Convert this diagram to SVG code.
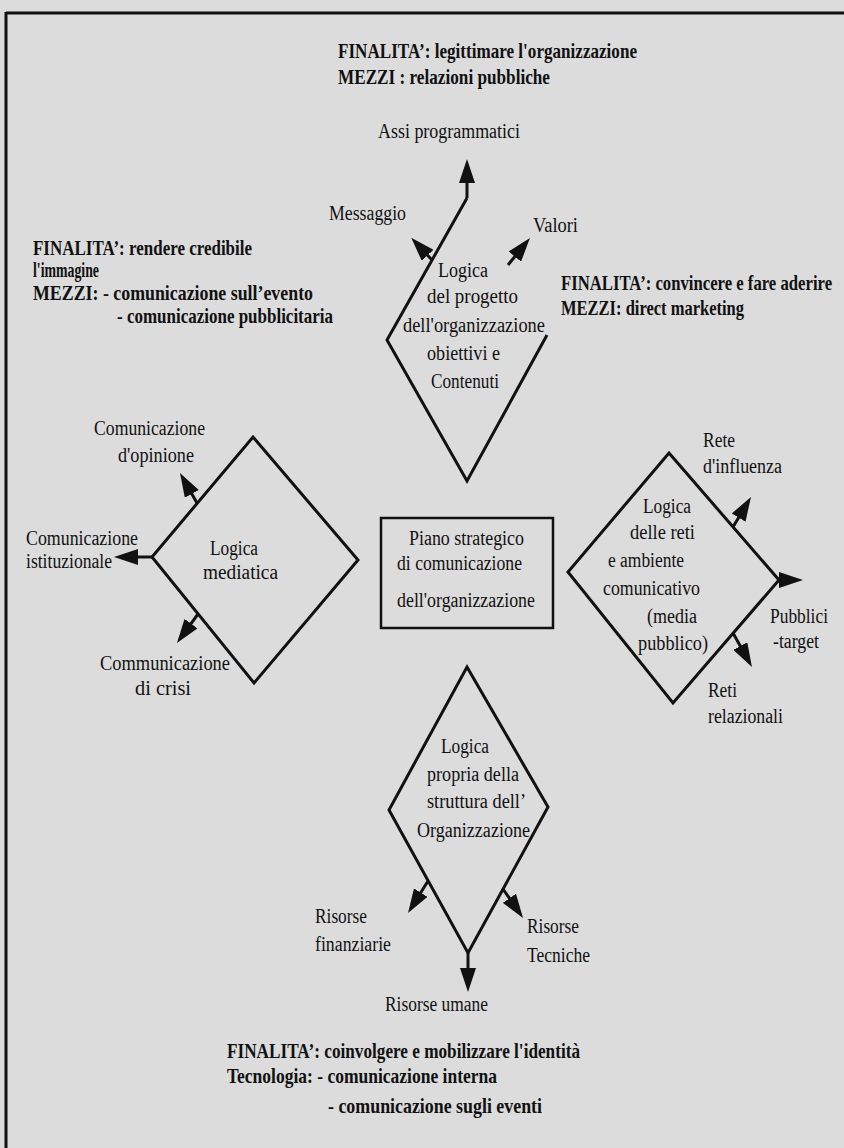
<svg xmlns="http://www.w3.org/2000/svg" width="844" height="1148" viewBox="0 0 844 1148">
<defs>
<style>
.bg{fill:#dcdcdc}
.frame{stroke:#111;stroke-width:3;fill:none}
.shape{stroke:#111;stroke-width:3;fill:none;stroke-linejoin:miter}
.box{stroke:#111;stroke-width:2.5;fill:none}
.arrow{stroke:#111;stroke-width:3;fill:none;marker-end:url(#head)}
text{font-family:"Liberation Serif","Times New Roman",serif;fill:#111;font-size:20px}
.b{font-weight:bold;font-size:21px}
</style>
<marker id="head" viewBox="0 0 24 16" refX="12" refY="8" markerWidth="24" markerHeight="16" markerUnits="userSpaceOnUse" orient="auto">
<path d="M0,0 L24,8 L0,16 Z" fill="#111"/>
</marker>
</defs>
<rect class="bg" x="0" y="0" width="844" height="1148"/>
<g id="frame">
<line class="frame" x1="6" y1="13" x2="844" y2="13"/>
<line class="frame" x1="6" y1="12" x2="6" y2="1148"/>
</g>

<g id="finalita-top">
<text class="b" x="338" y="58" textLength="299" lengthAdjust="spacingAndGlyphs">FINALITA’: legittimare l'organizzazione</text>
<text class="b" x="338" y="84" textLength="212" lengthAdjust="spacingAndGlyphs">MEZZI : relazioni pubbliche</text>
</g>
<g id="finalita-left">
<text class="b" x="33" y="255" textLength="219" lengthAdjust="spacingAndGlyphs">FINALITA’: rendere credibile</text>
<text class="b" x="33" y="277" textLength="66" lengthAdjust="spacingAndGlyphs">l'immagine</text>
<text class="b" x="33" y="300" textLength="280" lengthAdjust="spacingAndGlyphs">MEZZI:  - comunicazione sull’evento</text>
<text class="b" x="117" y="323" textLength="216" lengthAdjust="spacingAndGlyphs">- comunicazione pubblicitaria</text>
</g>
<g id="finalita-right">
<text class="b" transform="translate(561,290) scale(0.795,1)" x="0" y="0">FINALITA’: convincere e fare aderire</text>
<text class="b" x="561" y="315" textLength="183" lengthAdjust="spacingAndGlyphs">MEZZI: direct marketing</text>
</g>
<g id="finalita-bottom">
<text class="b" x="227" y="1058" textLength="353" lengthAdjust="spacingAndGlyphs">FINALITA’: coinvolgere e mobilizzare l'identità</text>
<text class="b" x="227" y="1083" textLength="270" lengthAdjust="spacingAndGlyphs">Tecnologia:  - comunicazione interna</text>
<text class="b" x="328" y="1113" textLength="214" lengthAdjust="spacingAndGlyphs">- comunicazione sugli eventi</text>
</g>

<g id="node-progetto">
<polyline class="shape" points="547,335 467,481 387,340 467,198"/>
<text x="438" y="277" textLength="50" lengthAdjust="spacingAndGlyphs">Logica</text>
<text x="427" y="303" textLength="91" lengthAdjust="spacingAndGlyphs">del progetto</text>
<text x="403" y="332" textLength="142" lengthAdjust="spacingAndGlyphs">dell'organizzazione</text>
<text x="427" y="360" textLength="73" lengthAdjust="spacingAndGlyphs">obiettivi e</text>
<text x="431" y="388" textLength="68" lengthAdjust="spacingAndGlyphs">Contenuti</text>
</g>
<g id="node-mediatica">
<polygon class="shape" points="253,437 358,560 254,683 152,557"/>
<text x="210" y="555" textLength="48" lengthAdjust="spacingAndGlyphs">Logica</text>
<text x="203" y="579" textLength="75" lengthAdjust="spacingAndGlyphs">mediatica</text>
</g>
<g id="node-piano">
<rect class="box" x="381" y="518" width="172" height="110"/>
<text x="409" y="545" textLength="115" lengthAdjust="spacingAndGlyphs">Piano strategico</text>
<text x="397" y="570" textLength="125" lengthAdjust="spacingAndGlyphs">di comunicazione</text>
<text x="397" y="607" textLength="138" lengthAdjust="spacingAndGlyphs">dell'organizzazione</text>
</g>
<g id="node-reti">
<polygon class="shape" points="669,453 779,580 673,703 568,572"/>
<text x="643" y="513" textLength="48" lengthAdjust="spacingAndGlyphs">Logica</text>
<text x="630" y="539" textLength="65" lengthAdjust="spacingAndGlyphs">delle reti</text>
<text x="608" y="567" textLength="76" lengthAdjust="spacingAndGlyphs">e ambiente</text>
<text x="603" y="595" textLength="97" lengthAdjust="spacingAndGlyphs">comunicativo</text>
<text x="647" y="623" textLength="50" lengthAdjust="spacingAndGlyphs">(media</text>
<text x="638" y="650" textLength="70" lengthAdjust="spacingAndGlyphs">pubblico)</text>
</g>
<g id="node-struttura">
<polygon class="shape" points="467,667 548,807 468,953 389,810"/>
<text x="441" y="753" textLength="48" lengthAdjust="spacingAndGlyphs">Logica</text>
<text x="427" y="781" textLength="92" lengthAdjust="spacingAndGlyphs">propria della</text>
<text x="427" y="808" textLength="99" lengthAdjust="spacingAndGlyphs">struttura dell’</text>
<text x="417" y="837" textLength="113" lengthAdjust="spacingAndGlyphs">Organizzazione</text>
</g>

<g id="label-assi"><text x="378" y="138" textLength="142" lengthAdjust="spacingAndGlyphs">Assi programmatici</text></g>
<g id="label-messaggio"><text x="329" y="220" textLength="77" lengthAdjust="spacingAndGlyphs">Messaggio</text></g>
<g id="label-valori"><text x="533" y="232" textLength="45" lengthAdjust="spacingAndGlyphs">Valori</text></g>
<g id="label-opinione">
<text x="94" y="435" textLength="111" lengthAdjust="spacingAndGlyphs">Comunicazione</text>
<text x="118" y="462" textLength="76" lengthAdjust="spacingAndGlyphs">d'opinione</text>
</g>
<g id="label-istituzionale">
<text x="26" y="545" textLength="112" lengthAdjust="spacingAndGlyphs">Comunicazione</text>
<text x="26" y="568" textLength="86" lengthAdjust="spacingAndGlyphs">istituzionale</text>
</g>
<g id="label-crisi">
<text x="100" y="670" textLength="130" lengthAdjust="spacingAndGlyphs">Communicazione</text>
<text x="135" y="695" textLength="56" lengthAdjust="spacingAndGlyphs">di crisi</text>
</g>
<g id="label-influenza">
<text x="703" y="447" textLength="32" lengthAdjust="spacingAndGlyphs">Rete</text>
<text x="703" y="473" textLength="79" lengthAdjust="spacingAndGlyphs">d'influenza</text>
</g>
<g id="label-pubblici">
<text x="770" y="623" textLength="58" lengthAdjust="spacingAndGlyphs">Pubblici</text>
<text x="773" y="648" textLength="46" lengthAdjust="spacingAndGlyphs">-target</text>
</g>
<g id="label-relazionali">
<text x="708" y="697" textLength="29" lengthAdjust="spacingAndGlyphs">Reti</text>
<text x="708" y="723" textLength="75" lengthAdjust="spacingAndGlyphs">relazionali</text>
</g>
<g id="label-finanziarie">
<text x="315" y="923" textLength="52" lengthAdjust="spacingAndGlyphs">Risorse</text>
<text x="315" y="951" textLength="76" lengthAdjust="spacingAndGlyphs">finanziarie</text>
</g>
<g id="label-tecniche">
<text x="527" y="933" textLength="52" lengthAdjust="spacingAndGlyphs">Risorse</text>
<text x="527" y="962" textLength="63" lengthAdjust="spacingAndGlyphs">Tecniche</text>
</g>
<g id="label-umane"><text x="385" y="1011" textLength="103" lengthAdjust="spacingAndGlyphs">Risorse umane</text></g>

<g id="connectors">
<line class="arrow" x1="467" y1="198" x2="467" y2="171"/>
<line class="arrow" x1="432" y1="260" x2="419.4" y2="246.5"/>
<line class="arrow" x1="508" y1="265" x2="522.4" y2="247.3"/>
<line class="arrow" x1="197" y1="503" x2="185.9" y2="483.4"/>
<line class="arrow" x1="152" y1="557" x2="126" y2="557"/>
<line class="arrow" x1="198" y1="614" x2="184" y2="633.3"/>
<line class="arrow" x1="733" y1="527" x2="744.8" y2="507.3"/>
<line class="arrow" x1="779" y1="580" x2="791" y2="580"/>
<line class="arrow" x1="733" y1="633" x2="746.1" y2="656.5"/>
<line class="arrow" x1="468" y1="953" x2="468" y2="980"/>
<line class="arrow" x1="428" y1="881" x2="414.4" y2="902.8"/>
<line class="arrow" x1="503" y1="889" x2="516.2" y2="908.1"/>
</g>
</svg>
